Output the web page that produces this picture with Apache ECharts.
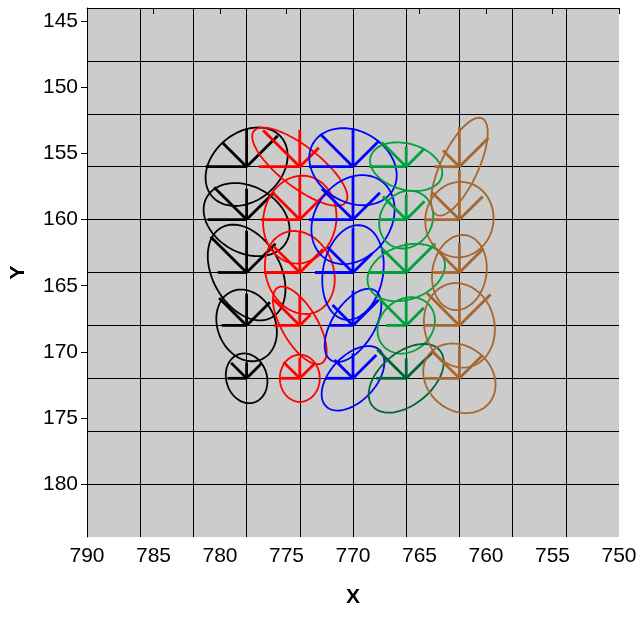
<!DOCTYPE html>
<html><head><meta charset="utf-8">
<script src="https://cdn.jsdelivr.net/npm/echarts@6/dist/echarts.min.js"></script>
<style>html,body{margin:0;padding:0;background:#fff}#c{width:640px;height:617px}</style>
</head><body><div id="c"></div>
<script>
// Tick labels
const xTicks = [790, 785, 780, 775, 770, 765, 760, 755, 750];
const yTicks = [145, 150, 155, 160, 165, 170, 175, 180];

// Glyph positions (25 stations)
const glyphX = [778,778,778,778,778, 774,774,774,774,774, 770,770,770,770,770, 766,766,766,766,766, 762,762,762,762,762];
const glyphY = [156,160,164,168,172, 156,160,164,168,172, 156,160,164,168,172, 156,160,164,168,172, 156,160,164,168,172];
const glyphSet = ['A','A','A','A','A', 'B','B','B','B','B', 'C','C','C','C','C', 'D','D','D','D','E', 'F','F','F','F','F'];

// Ellipse semi-axes (data units) and orientation (degrees, ccw from +screen x)
const ellA = [3.43,3.44,3.89,2.80,1.91, 4.38,3.34,3.22,3.30,1.78, 3.48,3.61,3.61,3.11,2.93, 2.78,2.26,3.01,2.32,3.29, 4.03,2.86,2.86,3.23,2.92];
const ellB = [2.56,2.50,2.55,2.17,1.53, 1.53,2.74,2.53,1.35,1.50, 2.68,2.84,2.26,1.59,1.71, 1.74,1.95,2.03,1.95,1.97, 1.41,2.56,2.03,2.63,2.41];
const ellAngle = [41,-30,-61,-67,-73, -38,80,-69,-60,90, -31,54,80,58,47, -16,60,20,43,40, 65,80,80,-76,-40];

// Ray lengths (data units): up, left, up-left, up-right
const rayUp = [2.86,2.33,3.16,2.41,1.20, 2.78,3.31,3.08,2.26,1.58, 2.93,3.23,3.38,2.63,1.88, 1.50,1.88,2.26,2.03,1.50, 3.01,3.76,2.26,2.78,2.41];
const rayLeft = [3.08,2.93,2.18,1.88,1.43, 3.08,2.93,2.71,1.95,1.43, 3.31,3.31,2.86,1.73,2.03, 2.78,2.03,2.78,1.50,2.26, 1.88,2.56,1.95,2.63,2.56];
const rayUL = [2.56,3.46,3.83,2.93,1.65, 3.91,2.93,2.82,2.78,1.73, 3.46,3.31,2.71,2.18,1.95, 2.59,2.48,2.63,2.86,3.08, 1.73,2.93,2.26,3.46,2.93];
const rayUR = [3.31,2.93,3.08,2.48,1.58, 2.03,2.86,2.48,1.13,1.50, 2.78,2.86,2.03,2.71,2.48, 1.95,1.95,3.08,1.88,2.93, 3.08,2.48,2.56,3.31,2.48];

const setColor = {A:'#000000', B:'#ff0000', C:'#0000ff', D:'#00a03c', E:'#006633', F:'#a5672f'};

const data = glyphX.map((x, i) => [x, glyphY[i], ellA[i], ellB[i], ellAngle[i], rayUp[i], rayLeft[i], rayUL[i], rayUR[i]]);

function renderItem(params, api) {
  const x = api.value(0), y = api.value(1);
  const a = api.value(2), b = api.value(3), th = api.value(4) * Math.PI / 180;
  const color = setColor[glyphSet[params.dataIndex]];
  // screen-right = decreasing x (inverse axis); screen-up = decreasing y (inverse axis)
  const toData = (r, u) => [x - r, y - u];
  const pts = [];
  const N = 90;
  for (let k = 0; k < N; k++) {
    const t = k / N * 2 * Math.PI;
    const u = a * Math.cos(t), v = b * Math.sin(t);
    const r = u * Math.cos(th) - v * Math.sin(th);
    const up = u * Math.sin(th) + v * Math.cos(th);
    pts.push(api.coord(toData(r, up)));
  }
  const c = api.coord([x, y]);
  const s2 = Math.SQRT1_2;
  const up = api.value(5), left = api.value(6), ul = api.value(7), ur = api.value(8);
  const ends = [toData(0, up), toData(-left, 0), toData(-ul * s2, ul * s2), toData(ur * s2, ur * s2)].map(p => api.coord(p));
  const children = [{
    type: 'polygon', shape: {points: pts},
    style: {fill: 'none', stroke: color, lineWidth: 1.8}
  }];
  ends.forEach(e => children.push({
    type: 'line', shape: {x1: c[0], y1: c[1], x2: e[0], y2: e[1]},
    style: {stroke: color, lineWidth: 2.8, lineCap: 'butt'}
  }));
  return {type: 'group', children};
}

const font = '"Liberation Sans", Arial, sans-serif';
const chart = echarts.init(document.getElementById('c'), null, {renderer: 'canvas'});
chart.setOption({
  animation: false,
  grid: {left: 86, right: 21, top: 8, bottom: 80, show: true, backgroundColor: '#cccccc', borderWidth: 0},
  xAxis: [{
    type: 'value', min: 750, max: 790, interval: 5, inverse: true,
    name: 'X', nameLocation: 'middle', nameGap: 50,
    nameTextStyle: {fontFamily: font, fontSize: 21, fontWeight: 'bold', color: '#000'},
    axisLine: {show: true, lineStyle: {color: '#000', width: 1}},
    axisTick: {show: true, length: 6, lineStyle: {color: '#000'}, customValues: xTicks},
    axisLabel: {fontFamily: font, fontSize: 21, color: '#000', margin: 9, customValues: xTicks},
    splitLine: {show: false}
  }, {
    type: 'value', min: 0, max: 40, interval: 4, position: 'top',
    axisLine: {show: false}, axisTick: {show: false}, axisLabel: {show: false},
    splitLine: {show: true, showMinLine: false, showMaxLine: false, lineStyle: {color: '#000', width: 1}}
  }],
  yAxis: [{
    type: 'value', min: 144, max: 184, inverse: true,
    name: 'Y', nameLocation: 'middle', nameGap: 58, nameRotate: 90,
    nameTextStyle: {fontFamily: font, fontSize: 21, fontWeight: 'bold', color: '#000'},
    axisLine: {show: true, lineStyle: {color: '#000', width: 1}},
    axisTick: {show: true, length: 6, lineStyle: {color: '#000'}, customValues: yTicks},
    axisLabel: {fontFamily: font, fontSize: 21, color: '#000', margin: 9, customValues: yTicks},
    splitLine: {show: false}
  }, {
    type: 'value', min: 0, max: 40, interval: 4, position: 'right', inverse: true,
    axisLine: {show: false}, axisTick: {show: false}, axisLabel: {show: false},
    splitLine: {show: true, showMinLine: false, showMaxLine: false, lineStyle: {color: '#000', width: 1}}
  }],
  series: [{
    type: 'custom', xAxisIndex: 0, yAxisIndex: 0,
    renderItem: renderItem, data: data, clip: false, z: 5
  }]
});
</script></body></html>
